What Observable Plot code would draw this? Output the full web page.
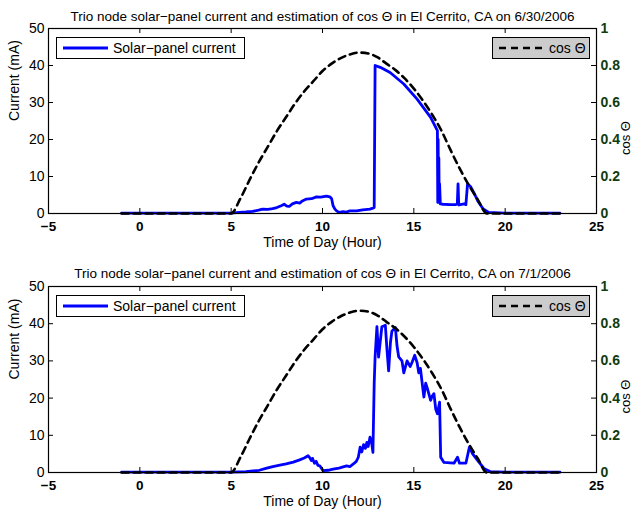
<!DOCTYPE html>
<html><head><meta charset="utf-8">
<script src="https://cdn.jsdelivr.net/npm/d3@7"></script>
<script src="https://cdn.jsdelivr.net/npm/@observablehq/plot@0.6"></script>
<style>
body{margin:0;background:#fff;font-family:"Liberation Sans",Arial,sans-serif;}
#c svg{display:block}
</style></head><body><div id="c"></div>
<script>
const xTicks = [-5, 0, 5, 10, 15, 20, 25];
const yTicks = [0, 10, 20, 30, 40, 50];
const cosTicks = [0, 0.2, 0.4, 0.6, 0.8, 1];
const cosTickLabels = ["0", "0.2", "0.4", "0.6", "0.8", "1"];
const titles = [
  "Trio node solar\u2212panel current and estimation of cos \u0398 in El Cerrito, CA on 6/30/2006",
  "Trio node solar\u2212panel current and estimation of cos \u0398 in El Cerrito, CA on 7/1/2006"
];
const legendCurrent = "Solar\u2212panel current";
const legendCos = "cos \u0398";
const xLabel = "Time of Day (Hour)";
const yLabel = "Current (mA)";
const y2Label = "cos \u0398";

// cos(theta) estimate (hour, value)
const cosHours = [-1, 0, 2, 4, 5, 5.5, 6, 6.5, 7, 7.5, 8, 8.5, 9, 9.5, 10, 10.5, 11, 11.5, 12, 12.5, 13, 13.5, 14, 14.5, 15, 15.5, 16, 16.5, 17, 17.5, 18, 18.5, 19, 20, 21, 22, 23];
const cosVals  = [0, 0, 0, 0, 0, 0.08, 0.18, 0.275, 0.36, 0.445, 0.52, 0.595, 0.66, 0.715, 0.77, 0.81, 0.84, 0.86, 0.87, 0.865, 0.845, 0.81, 0.775, 0.73, 0.675, 0.61, 0.535, 0.45, 0.345, 0.245, 0.155, 0.075, 0, 0, 0, 0, 0];

// Solar-panel current 6/30/2006 (hour, mA)
const current1 = [[-1,0.1],[0,0.1],[2,0.1],[4,0.1],[5,0.1],[5.44,0.3],[5.8,0.4],[6.17,0.55],[6.5,0.9],[6.72,1.2],[7.0,1.1],[7.27,1.3],[7.5,1.6],[7.74,2.1],[7.9,2.5],[8.05,2.0],[8.18,1.9],[8.35,2.6],[8.57,3.0],[8.75,2.8],[8.9,3.4],[9.12,3.9],[9.4,4.0],[9.67,4.5],[9.9,4.4],[10.22,4.7],[10.4,4.5],[10.5,4.0],[10.58,2.1],[10.68,1.2],[10.77,0.7],[10.9,0.3],[11.14,0.5],[11.3,0.4],[11.5,0.7],[11.87,0.7],[12.2,1.0],[12.6,1.2],[12.83,1.6],[12.88,40],[13.16,39.5],[13.7,38.1],[14.45,35],[15.18,30.9],[15.92,26],[16.29,22.4],[16.31,3],[16.33,20],[16.35,4],[16.37,15],[16.39,3],[16.41,8],[16.45,2.6],[16.6,2.5],[17.0,2.4],[17.3,2.4],[17.38,2.6],[17.42,8],[17.46,2.3],[17.55,2.4],[17.75,2.6],[17.85,2.4],[17.94,8],[18.1,7.3],[18.3,5.5],[18.5,3.4],[18.8,1.2],[19.1,0.3],[20,0.1],[21,0.1],[22,0.1],[23,0.1]];

// Solar-panel current 7/1/2006 (hour, mA)
const current2 = [[-1,0.1],[0,0.1],[2,0.1],[4,0.1],[5,0.1],[5.81,0.2],[6.2,0.4],[6.54,0.6],[6.9,1.1],[7.28,1.6],[7.6,1.9],[8.01,2.3],[8.4,2.8],[8.75,3.4],[9.0,3.9],[9.21,4.5],[9.3,4.0],[9.39,3.2],[9.45,3.8],[9.56,2.5],[9.65,3.0],[9.75,1.9],[9.85,1.8],[10.03,0.5],[10.3,0.6],[10.58,0.9],[10.9,1.2],[11.32,1.8],[11.5,1.6],[11.69,2.3],[11.85,3.0],[11.96,4.1],[12.06,6.8],[12.15,5.5],[12.25,7.5],[12.35,6.5],[12.43,8.1],[12.5,7.0],[12.6,9.5],[12.7,7.7],[12.76,5.4],[12.83,23.9],[12.88,31.1],[12.98,39.2],[13.07,31],[13.25,39.2],[13.44,39.6],[13.53,33],[13.62,27.3],[13.72,35],[13.8,38],[13.99,39],[14.08,34],[14.17,31.1],[14.35,30],[14.45,26.8],[14.63,30],[14.8,28.5],[14.91,29.7],[15.05,31.5],[15.18,29.5],[15.27,26.8],[15.36,28],[15.46,23.9],[15.55,20.3],[15.65,24],[15.74,22.6],[15.83,21],[15.92,19.4],[16.0,20.5],[16.1,21.2],[16.2,17],[16.29,15.8],[16.41,18.9],[16.47,4.1],[16.65,2.7],[17.0,2.6],[17.2,2.5],[17.39,4.1],[17.5,2.5],[17.85,2.5],[18.04,6.8],[18.22,5],[18.5,3.2],[18.86,1],[19.2,0.2],[20,0.1],[21,0.1],[22,0.1],[23,0.1]];

const FONT = "Liberation Sans, Arial, Helvetica, sans-serif";
const GREEN = "#103c10";

function makeChart(title, current, height, mt, mb, titleDy, xLabelDy) {
  const W = 637, ml = 48, mr = 41;
  const fh = height - mt - mb, fw = W - ml - mr;
  const cur = current.map(([h, v]) => ({h, v}));
  const cosData = cosHours.map((h, i) => ({h, v: cosVals[i] * 50}));
  const svg = Plot.plot({
    width: W, height, marginLeft: ml, marginRight: mr, marginTop: mt, marginBottom: mb,
    style: {fontFamily: FONT, fontSize: "13px", color: "black", background: "white", overflow: "visible"},
    x: {domain: [-5, 25]},
    y: {domain: [0, 50]},
    marks: [
      Plot.line(cur, {x: "h", y: "v", stroke: "#0000ff", strokeWidth: 2.8}),
      Plot.line(cosData, {x: "h", y: "v", stroke: "black", strokeWidth: 2.6, strokeDasharray: "7,5", curve: "monotone-x"}),
      Plot.frame({stroke: "black", strokeWidth: 1.2}),
      Plot.ruleX(xTicks, {x: d => d, insetTop: fh - 5, stroke: "black"}),
      Plot.ruleX(xTicks, {x: d => d, insetBottom: fh - 5, stroke: "black"}),
      Plot.ruleY(yTicks, {y: d => d, insetRight: fw - 5, stroke: "black"}),
      Plot.ruleY(cosTicks.map(t => t * 50), {y: d => d, insetLeft: fw - 5, stroke: "black"}),
      Plot.axisX({ticks: xTicks, tickSize: 0, tickPadding: 8, fontWeight: "bold", fontSize: 13.5, label: null}),
      Plot.axisY({ticks: yTicks, tickSize: 0, tickPadding: 4, fontSize: 14, label: null}),
      Plot.axisY({anchor: "right", ticks: cosTicks.map(t => t * 50), tickFormat: (d, i) => cosTickLabels[i], tickSize: 0, tickPadding: 4, fontSize: 14, fontWeight: "bold", fill: GREEN, label: null}),
      Plot.text([xLabel], {frameAnchor: "bottom", dy: xLabelDy, fontSize: 14}),
      Plot.text([yLabel], {frameAnchor: "left", dx: -34, rotate: -90, fontSize: 14}),
      Plot.text([y2Label], {frameAnchor: "right", dx: 29, rotate: -90, fontSize: 13}),
      Plot.text([title], {frameAnchor: "top", dy: titleDy, fontSize: 13.5})
    ]
  });
  // legends
  const s = d3.select(svg);
  const top = mt + 9;
  const g1 = s.append("g").attr("text-anchor", "start");
  g1.append("rect").attr("x", 56.5).attr("y", top + 0.5).attr("width", 188).attr("height", 21)
    .attr("fill", "white").attr("stroke", "black").attr("stroke-width", 1);
  g1.append("line").attr("x1", 63).attr("x2", 108).attr("y1", top + 11).attr("y2", top + 11)
    .attr("stroke", "#0000ff").attr("stroke-width", 2.8);
  g1.append("text").attr("x", 113).attr("y", top + 11).attr("dy", "0.35em").attr("text-anchor", "start")
    .attr("font-family", FONT).attr("font-size", 14).text(legendCurrent);
  const g2 = s.append("g").attr("text-anchor", "start");
  g2.append("rect").attr("x", 492.5).attr("y", top + 0.5).attr("width", 97).attr("height", 21)
    .attr("fill", "#cccccc").attr("stroke", "black").attr("stroke-width", 1);
  g2.append("line").attr("x1", 499).attr("x2", 545).attr("y1", top + 11).attr("y2", top + 11)
    .attr("stroke", "black").attr("stroke-width", 2.6).attr("stroke-dasharray", "7,5");
  g2.append("text").attr("x", 549).attr("y", top + 11).attr("dy", "0.35em").attr("text-anchor", "start")
    .attr("font-family", FONT).attr("font-size", 14).text(legendCos);
  return svg;
}

const c = document.getElementById("c");
c.appendChild(makeChart(titles[0], current1, 257, 28, 44, -17, 33));
c.appendChild(makeChart(titles[1], current2, 257, 29, 42, -18, 33));
</script></body></html>
